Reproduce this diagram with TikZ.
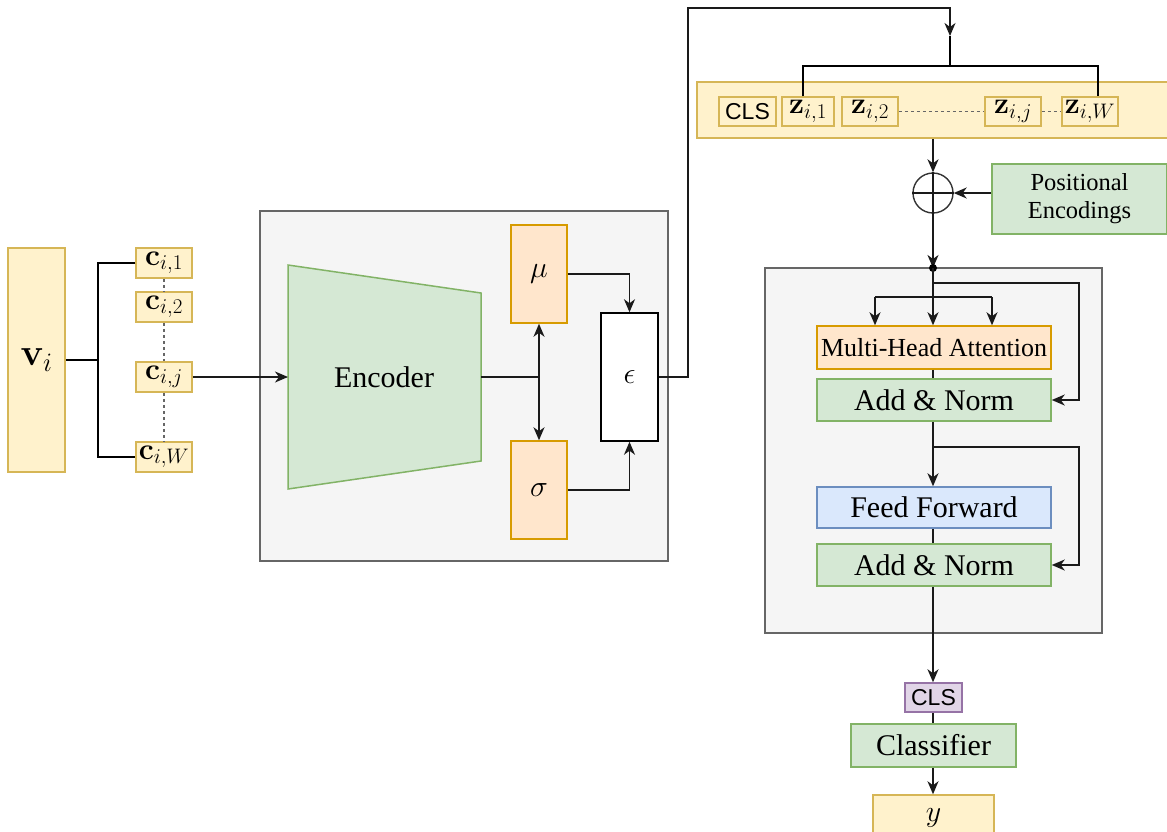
\RequirePackage{fix-cm}
\documentclass[tikz,border=0pt]{standalone}
\usepackage[no-math]{fontspec}
\setmainfont{Liberation Serif}
\newfontfamily\labsans{Liberation Sans}
\usetikzlibrary{arrows.meta,calc}

\definecolor{ylwF}{HTML}{FFF2CC}\definecolor{ylwD}{HTML}{D6B656}
\definecolor{grnF}{HTML}{D5E8D4}\definecolor{grnD}{HTML}{82B366}
\definecolor{orgF}{HTML}{FFE6CC}\definecolor{orgD}{HTML}{D79B00}
\definecolor{bluF}{HTML}{DAE8FC}\definecolor{bluD}{HTML}{6C8EBF}
\definecolor{purF}{HTML}{E1D5E7}\definecolor{purD}{HTML}{9673A6}
\definecolor{gryF}{HTML}{F5F5F5}\definecolor{gryD}{HTML}{666666}
\definecolor{lineC}{HTML}{1A1A1A}

\tikzset{
  box/.style={rectangle, inner sep=0pt, line width=1.5pt, anchor=center},
  yellowbox/.style={box, fill=ylwF, draw=ylwD},
  greenbox/.style={box, fill=grnF, draw=grnD},
  orangebox/.style={box, fill=orgF, draw=orgD},
  bluebox/.style={box, fill=bluF, draw=bluD},
  purplebox/.style={box, fill=purF, draw=purD},
  container/.style={box, fill=gryF, draw=gryD},
  wire/.style={draw=lineC, line width=1.6pt},
  arr/.style={wire, -{Stealth[length=13pt, width=11pt, inset=4pt]}},
  bracket/.style={draw=black, line width=2.8pt},
  dots/.style={draw=gryD, line width=1.3pt, dash pattern=on 3.5pt off 2.5pt},
  bigtxt/.style={font=\fontsize{30}{34}\selectfont},
  midtxt/.style={font=\fontsize{26}{30}\selectfont},
  smalltxt/.style={font=\fontsize{24.5}{30}\selectfont},
  tokmath/.style={font=\fontsize{30}{32}\selectfont},
  clstxt/.style={font=\labsans\fontsize{23}{26}\selectfont},
}

\begin{document}
\begin{tikzpicture}[x=1pt, y=-1pt]
\useasboundingbox (0,0) rectangle (1167,831);

% ---------- input series and its segments ----------
\node[yellowbox, minimum width=57, minimum height=224, font=\fontsize{38}{40}\selectfont] (vi) at (36.5,360) {$\mathbf{v}_i$};
\node[yellowbox, minimum width=56, minimum height=30, tokmath] (c1) at (164,263) {$\mathbf{c}_{i,1}$};
\node[yellowbox, minimum width=56, minimum height=30, tokmath] (c2) at (164,307) {$\mathbf{c}_{i,2}$};
\node[yellowbox, minimum width=56, minimum height=30, tokmath] (cj) at (164,377) {$\mathbf{c}_{i,j}$};
\node[yellowbox, minimum width=56, minimum height=30, tokmath] (cW) at (164,457) {$\mathbf{c}_{i,W}$};

\coordinate (brk) at (98,360);
\draw[bracket] (vi.east) -- (brk);
\draw[bracket] (c1.west) -| (brk) |- (cW.west);
\draw[dots] (c1.south) -- (c2.north);
\draw[dots] (c2.south) -- (cj.north);
\draw[dots] (cj.south) -- (cW.north);

% ---------- variational encoder ----------
\node[container, minimum width=408, minimum height=350] (vae) at (464,386) {};
\draw[fill=grnF, draw=grnD, line width=1.5pt] (288,265) -- (481,293) -- (481,461) -- (288,489) -- cycle;
\node[bigtxt] (enc) at (384,377) {Encoder};
\coordinate (encin) at (288,377);
\coordinate (encout) at (481,377);
\coordinate (split) at (539,377);

\node[orangebox, minimum width=56, minimum height=98, bigtxt] (mu) at (539,274) {$\mu$};
\node[orangebox, minimum width=56, minimum height=98, bigtxt] (sigma) at (539,490) {$\sigma$};
\node[box, fill=white, draw=black, minimum width=57, minimum height=128, bigtxt] (eps) at (629.5,377) {$\epsilon$};

\draw[arr] (cj.east) -- (encin);
\draw[wire] (encout) -- (split);
\draw[arr] (split) -- (mu.south);
\draw[arr] (split) -- (sigma.north);
\draw[arr] (mu.east) -| (eps.north);
\draw[arr] (sigma.east) -| (eps.south);

% ---------- latent tokens ----------
\node[yellowbox, minimum width=475, minimum height=56] (band) at (934.5,110) {};
\node[yellowbox, minimum width=57, minimum height=29, clstxt] (cls) at (747.5,111.5) {CLS};
\node[yellowbox, minimum width=52, minimum height=29, tokmath] (z1) at (808,111.5) {$\mathbf{z}_{i,1}$};
\node[yellowbox, minimum width=56, minimum height=29, tokmath] (z2) at (870,111.5) {$\mathbf{z}_{i,2}$};
\node[yellowbox, minimum width=56, minimum height=29, tokmath] (zj) at (1013,111.5) {$\mathbf{z}_{i,j}$};
\node[yellowbox, minimum width=56, minimum height=29, tokmath] (zW) at (1090,111.5) {$\mathbf{z}_{i,W}$};
\draw[dots] (z2.east) -- (zj.west);
\draw[dots] (zj.east) -- (zW.west);

\coordinate (up) at (688,8);
\coordinate (zin) at (950,36);
\coordinate (zjoin) at (950,66);
\draw[arr] (eps.east) -| (up) -| (zin);
\draw[bracket] (zin) -- (zjoin);
\draw[bracket] ([xshift=-5pt]z1.north) |- (zjoin) -| ([xshift=8pt]zW.north);

% ---------- positional encodings ----------
\node[circle, draw=black!80, line width=1.4pt, minimum size=40, inner sep=0pt] (op) at (933,193) {};
\draw[wire] (op.west) -- (op.east);
\draw[wire] (op.north) -- (op.south);
\node[greenbox, minimum width=175, minimum height=70, smalltxt, align=center] (pe) at (1079.5,199) {Positional\\[-2pt]Encodings};
\draw[arr] (band.south -| op) -- (op.north);
\draw[arr] (pe.west |- op.east) -- (op.east);

% ---------- transformer block ----------
\node[container, minimum width=337, minimum height=365] (tf) at (933.5,450.5) {};
\coordinate (tin) at (933,268);
\draw[arr] (op.south) -- (tin);
\fill[black] (tin) circle (4pt);

\node[orangebox, minimum width=234, minimum height=43, midtxt] (mha) at (934,347.5) {Multi-Head Attention};
\node[greenbox, minimum width=234, minimum height=42, bigtxt] (an1) at (934,400) {Add \& Norm};
\node[bluebox, minimum width=234, minimum height=41, bigtxt] (ff) at (934,507.5) {Feed Forward};
\node[greenbox, minimum width=234, minimum height=42, bigtxt] (an2) at (934,565) {Add \& Norm};

\coordinate (qa) at (875,297);
\coordinate (qb) at (992,297);
\coordinate (s1) at (933,283);
\coordinate (s2) at (933,447);
\coordinate (r1) at (1079,283);
\coordinate (r2) at (1079,447);

\draw[arr] (tin) -- (tin |- mha.north);
\draw[wire] (qa) -- (qb);
\draw[arr] (qa) -- (qa |- mha.north);
\draw[arr] (qb) -- (qb |- mha.north);
\draw[arr] (s1) -- (r1) |- (an1.east);
\draw[wire] (mha.south -| tin) -- (an1.north -| tin);
\draw[arr] (an1.south -| tin) -- (ff.north -| tin);
\draw[arr] (s2) -- (r2) |- (an2.east);
\draw[wire] (ff.south -| tin) -- (an2.north -| tin);

% ---------- classification head ----------
\node[purplebox, minimum width=57, minimum height=29, clstxt] (clsout) at (933.5,697.5) {CLS};
\node[greenbox, minimum width=165, minimum height=43, bigtxt] (clf) at (933.5,745.5) {Classifier};
\node[yellowbox, minimum width=121, minimum height=46, bigtxt] (yout) at (933.5,818) {$y$};

\draw[arr] (an2.south -| tin) -- (clsout.north -| tin);
\draw[wire] (clsout.south -| tin) -- (clf.north -| tin);
\draw[arr] (clf.south -| tin) -- (yout.north -| tin);
\end{tikzpicture}
\end{document}
